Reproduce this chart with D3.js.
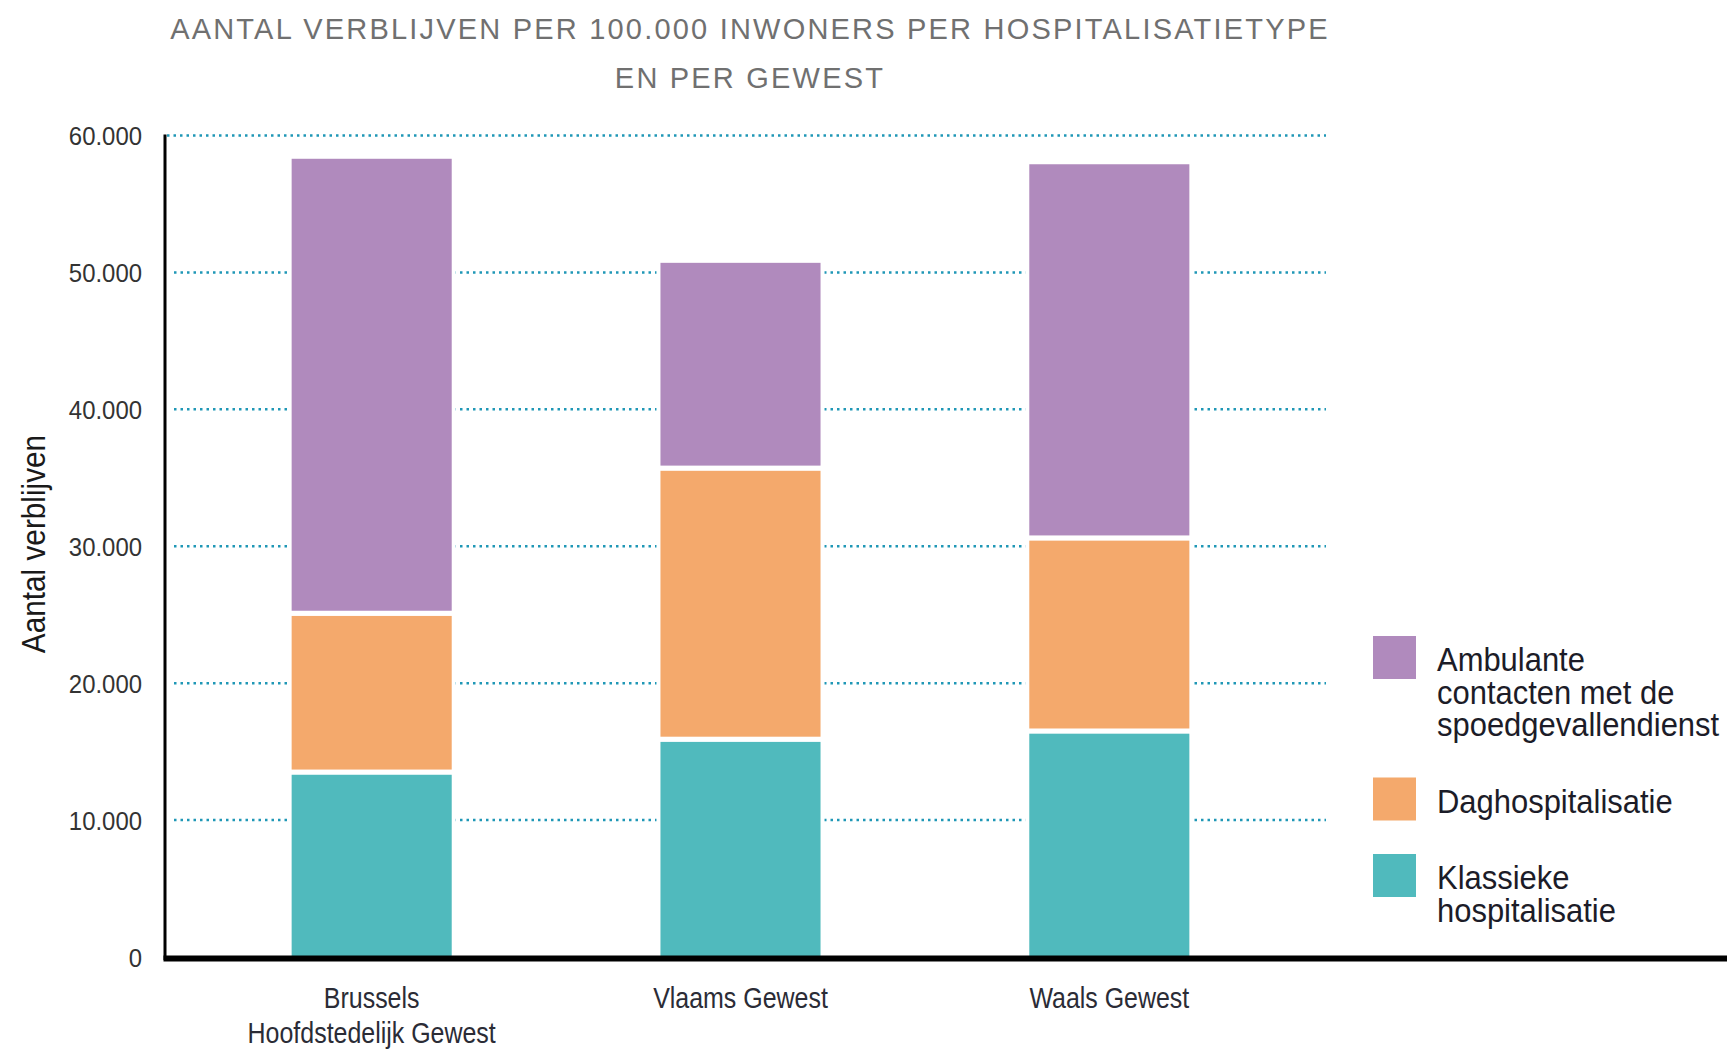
<!DOCTYPE html>
<html lang="nl">

<head>
  <meta charset="utf-8">
  <script src="https://d3js.org/d3.v7.min.js"></script>
  <style>
    body {
      margin: 0;
      background: #fff;
    }

    .title {
      font-family: "Liberation Sans", Arial, sans-serif;
      font-size: 29px;
      letter-spacing: 2.2px;
      fill: #707070;
    }

    .tick-label {
      font-family: "Liberation Sans", Arial, sans-serif;
      font-size: 26px;
      fill: #333;
    }

    .cat-label {
      font-family: "Liberation Sans", Arial, sans-serif;
      font-size: 29px;
      fill: #2b2c36;
    }

    .y-title {
      font-family: "Liberation Sans", Arial, sans-serif;
      font-size: 34px;
      fill: #1a1a1a;
    }

    .legend-text {
      font-family: "Liberation Sans", Arial, sans-serif;
      font-size: 34px;
      fill: #1c1c28;
    }

    .grid {
      stroke: #1f97b6;
      stroke-width: 2.5;
      stroke-dasharray: 2.5 4;
    }
  </style>
</head>

<body>
  <script>

    // data
    var categories = ["Brussels Hoofdstedelijk Gewest", "Vlaams Gewest", "Waals Gewest"];
    var categoryLines = [["Brussels", "Hoofdstedelijk Gewest"], ["Vlaams Gewest"], ["Waals Gewest"]];
    var klassieke = [13500, 15900, 16500];
    var dag = [11600, 19800, 14100];
    var ambulante = [33200, 15000, 27300];
    var seriesKeys = ["klassieke", "dag", "ambulante"];
    var seriesColors = ["#50babd", "#f4a96c", "#b08abd"];
    var legendLines = [
      ["Ambulante", "contacten met de", "spoedgevallendienst"],
      ["Daghospitalisatie"],
      ["Klassieke", "hospitalisatie"]
    ];
    var legendColors = ["#b08abd", "#f4a96c", "#50babd"];
    var yTicks = [0, 10000, 20000, 30000, 40000, 50000, 60000];
    var titleLines = [
      "AANTAL VERBLIJVEN PER 100.000 INWONERS PER HOSPITALISATIETYPE",
      "EN PER GEWEST"
    ];
    var yTitle = "Aantal verblijven";

    var w = 1727,
      h = 1050,
      svg = d3.select("body")
        .append("svg")
        .attr("width", w)
        .attr("height", h);

    // the original uses a condensed face; squeeze the glyphs to match
    function squeeze(sel, k) {
      sel.each(function () {
        var len = this.getComputedTextLength();
        d3.select(this)
          .attr("textLength", len * k)
          .attr("lengthAdjust", "spacingAndGlyphs");
      });
    }

    var nl = d3.formatLocale({ decimal: ",", thousands: ".", grouping: [3], currency: ["€", ""] });
    var fmt = nl.format(",");

    var table = categories.map(function (c, i) {
      return { cat: c, klassieke: klassieke[i], dag: dag[i], ambulante: ambulante[i] };
    });
    var stacked = d3.stack().keys(seriesKeys)(table);

    var y = d3.scaleLinear().domain([0, 60000]).range([957, 135.5]);
    var x = d3.scaleBand().domain(categories).range([181, 1300])
      .paddingInner(0.566).paddingOuter(0.3);

    var gridLeft = 174,
      gridRight = 1326,
      axisX = 165,
      gap = 2.6;

    // title
    svg.selectAll("text.title")
      .data(titleLines)
      .enter()
      .append("text")
      .attr("class", "title")
      .attr("x", 750)
      .attr("y", function (d, i) { return 39 + i * 49; })
      .attr("text-anchor", "middle")
      .text(function (d) { return d; });

    // dotted gridlines
    svg.selectAll("line.grid")
      .data(yTicks.filter(function (t) { return t > 0; }))
      .enter()
      .append("line")
      .attr("class", "grid")
      .attr("x1", function (d) { return d === 60000 ? axisX + 2 : gridLeft; })
      .attr("x2", gridRight)
      .attr("y1", function (d) { return y(d); })
      .attr("y2", function (d) { return y(d); });

    // white halo behind each column so the grid stops short of the bars
    svg.selectAll("rect.halo")
      .data(table)
      .enter()
      .append("rect")
      .attr("x", function (d) { return x(d.cat) - 4; })
      .attr("width", x.bandwidth() + 8)
      .attr("y", function (d) { return y(d.klassieke + d.dag + d.ambulante) - 4; })
      .attr("height", function (d) { return y(0) - y(d.klassieke + d.dag + d.ambulante) + 4; })
      .attr("fill", "#fff");

    // stacked bars
    var layers = svg.selectAll("g.layer")
      .data(stacked)
      .enter()
      .append("g")
      .attr("fill", function (d, i) { return seriesColors[i]; });

    layers.each(function (s, si) {
      d3.select(this).selectAll("rect")
        .data(s)
        .enter()
        .append("rect")
        .attr("x", function (d) { return x(d.data.cat); })
        .attr("width", x.bandwidth())
        .attr("y", function (d) {
          return y(d[1]) + (si === stacked.length - 1 ? 0 : gap);
        })
        .attr("height", function (d) {
          var top = y(d[1]) + (si === stacked.length - 1 ? 0 : gap);
          var bottom = y(d[0]) - (si === 0 ? 0 : gap);
          return bottom - top;
        });
    });

    // y axis labels
    var yAxis = svg.append("g")
      .attr("transform", "translate(" + axisX + ",0)")
      .call(d3.axisLeft(y).tickValues(yTicks).tickFormat(fmt).tickSize(0).tickPadding(23));
    yAxis.select(".domain").remove();
    yAxis.selectAll("text")
      .attr("class", "tick-label")
      .attr("font-family", null)
      .attr("font-size", null)
      .attr("fill", null)
      .attr("dy", "0.36em");
    squeeze(yAxis.selectAll("text"), 0.92);

    // axis lines
    svg.append("line")
      .attr("x1", axisX).attr("x2", axisX)
      .attr("y1", y(60000) - 1).attr("y2", y(0) + 3)
      .attr("stroke", "#000")
      .attr("stroke-width", 3);

    svg.append("line")
      .attr("x1", axisX - 1.5).attr("x2", w)
      .attr("y1", y(0) + 1.5).attr("y2", y(0) + 1.5)
      .attr("stroke", "#000")
      .attr("stroke-width", 6);

    // category labels, one text per line
    var catRows = [];
    categories.forEach(function (c, i) {
      categoryLines[i].forEach(function (line, j) {
        catRows.push({ cat: c, text: line, row: j });
      });
    });

    var catText = svg.selectAll("text.cat-label")
      .data(catRows)
      .enter()
      .append("text")
      .attr("class", "cat-label")
      .attr("text-anchor", "middle")
      .attr("x", function (d) { return x(d.cat) + x.bandwidth() / 2; })
      .attr("y", function (d) { return 1008 + d.row * 35; })
      .text(function (d) { return d.text; });
    squeeze(catText, 0.86);

    // y axis title
    var yt = svg.append("text")
      .attr("class", "y-title")
      .attr("transform", "translate(45,544) rotate(-90)")
      .attr("text-anchor", "middle")
      .text(yTitle);
    squeeze(yt, 0.875);

    // legend
    var legendTop = 636,
      lineH = 32.5,
      itemGap = 44,
      tops = [];
    legendLines.forEach(function (lines) {
      tops.push(legendTop);
      legendTop += lines.length * lineH + itemGap;
    });

    var legend = svg.selectAll("g.legend")
      .data(legendLines)
      .enter()
      .append("g")
      .attr("transform", function (d, i) { return "translate(1373," + tops[i] + ")"; });

    legend.append("rect")
      .attr("width", 43)
      .attr("height", 43)
      .attr("fill", function (d, i) { return legendColors[i]; });

    var legendText = legend.selectAll("text")
      .data(function (d) { return d; })
      .enter()
      .append("text")
      .attr("class", "legend-text")
      .attr("x", 64)
      .attr("y", function (d, j) { return 35 + j * lineH; })
      .text(function (d) { return d; });
    squeeze(legendText, 0.91);
  </script>

</body>

</html>
